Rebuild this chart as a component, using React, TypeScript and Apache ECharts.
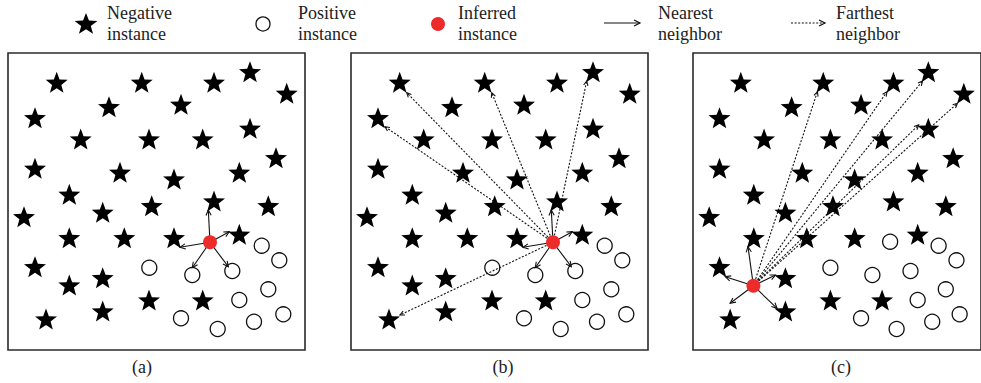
import React, { useEffect, useRef } from "react";
import * as echarts from "echarts";

// ---- data (panel-local coordinates, 0..297, y downward) ----
const starsAB: number[][] = [
  [48.7, 29.3], [133.7, 29.3], [206, 29.3], [242, 18.7], [278.7, 40.3],
  [27, 64.7], [101, 53.7], [173, 51.3], [72.7, 86], [141, 86], [194.7, 86],
  [242, 75.3], [27, 115.3], [112, 119.3], [166, 126], [231.3, 119.3],
  [268, 104.7], [61.3, 141.3], [16, 163.7], [94.7, 159.3], [143.7, 152.7],
  [206, 148], [260.3, 152.7], [61.3, 184.7], [116.3, 184.7], [166, 184.7],
  [231.3, 181.3], [27, 213.7], [61.3, 232], [94.7, 224.7], [141, 247],
  [194.7, 247], [38, 266], [94.7, 258],
];
const circlesAB: number[][] = [
  [141.3, 214.7], [184.3, 222], [224.3, 218], [253.7, 192.7], [271.3, 207.3],
  [260.3, 236.3], [231.3, 247], [173, 265.3], [209.7, 276], [246, 268.7],
  [275.3, 261.3],
];
const inferredAB: number[] = [202, 189.3];
const nearestTipsAB: number[][] = [
  [200.3, 157], [172, 194.3], [221.3, 178.7], [184.3, 214.7], [220.3, 213.7],
];
const farthestTipsB: number[][] = [
  [55.7, 39.7], [34, 73.7], [140.7, 39.7], [235.7, 28], [49, 262],
];

const starsC: number[][] = [
  [49.3, 29.3], [134.3, 29.3], [206.7, 29.3], [242.7, 18.7], [279.3, 40.3],
  [27.3, 64.7], [101.7, 53.7], [173.3, 51.3], [73.3, 86], [141.7, 86],
  [195, 86], [242.7, 75.3], [27.3, 115.3], [112.7, 119.3], [166.7, 126],
  [231.7, 119.3], [268.3, 104.7], [62.7, 141.3], [16.7, 163.7], [95.3, 159.3],
  [144.3, 152.7], [206.7, 148], [260.7, 152.7], [62.7, 184.7], [117.3, 184.7],
  [166.7, 184.7], [231.7, 181.3], [27.3, 213.7], [95.3, 224.7], [141.7, 247],
  [195, 247], [38.3, 266], [95.3, 258],
];
const circlesC: number[][] = [
  [141.7, 214.7], [185, 222], [224.3, 218], [203.3, 188.7], [253.3, 192.7],
  [271.7, 207.3], [260.7, 236.3], [231.7, 247], [173.3, 265.3], [210, 276],
  [246.7, 268.7], [275, 261.3],
];
const inferredC: number[] = [62.3, 232.7];
const nearestTipsC: number[][] = [
  [56.7, 193.7], [33.3, 223.7], [85, 222], [38.3, 250.3], [86.7, 255.3],
];
const farthestTipsC: number[][] = [
  [128.3, 38.7], [200, 38.7], [236.7, 28], [232.7, 72], [272.7, 50.3],
];

const legendLabels = [
  "Negative\ninstance",
  "Positive\ninstance",
  "Inferred\ninstance",
  "Nearest\nneighbor",
  "Farthest\nneighbor",
];
const panelLabels = ["(a)", "(b)", "(c)"];

// ---- styling ----
const STAR_D =
  "M50 0L62.34 33.01L97.55 34.55L69.97 56.49L79.39 90.45L50 71L20.61 90.45L30.03 56.49L2.45 34.55L37.66 33.01Z";
const STAR = "path://" + STAR_D;
const RED = "#ee2b2b";
const INK = "#111";
const FONT = "'Liberation Serif', 'DejaVu Serif', serif";
const TEXT = "#222";

const panelLefts = [8, 351, 693];
const PANEL_TOP = 53;
const PANEL_SIZE = 297;

echarts.graphic.registerShape("star5", echarts.graphic.extendPath(STAR_D, {}));

function arrowRender(dashed: boolean) {
  return (_params: any, api: any) => {
    const p1 = api.coord([api.value(0), api.value(1)]);
    const p2 = api.coord([api.value(2), api.value(3)]);
    const ang = Math.atan2(p2[1] - p1[1], p2[0] - p1[0]);
    const L = dashed ? 5 : 6;
    const a = 0.45;
    const h1 = [p2[0] - L * Math.cos(ang - a), p2[1] - L * Math.sin(ang - a)];
    const h2 = [p2[0] - L * Math.cos(ang + a), p2[1] - L * Math.sin(ang + a)];
    return {
      type: "group",
      children: [
        {
          type: "line",
          shape: { x1: p1[0], y1: p1[1], x2: p2[0], y2: p2[1] },
          style: { stroke: INK, lineWidth: 1.1, lineDash: dashed ? [2, 1.6] : null },
        },
        {
          type: "polyline",
          shape: { points: [h1, p2, h2] },
          style: { stroke: INK, fill: "none", lineWidth: 1.1 },
        },
      ],
    };
  };
}

function arrowData(from: number[], tips: number[][]) {
  return tips.map((t) => [from[0], from[1], t[0], t[1]]);
}

function panelSeries(
  idx: number,
  stars: number[][],
  circles: number[][],
  inferred: number[],
  nearest: number[][],
  farthest: number[][]
) {
  const ax = { xAxisIndex: idx, yAxisIndex: idx };
  const s: any[] = [
    {
      type: "scatter", ...ax, data: stars, symbol: STAR, symbolSize: [22, 21],
      itemStyle: { color: "#000", opacity: 1 }, z: 2, silent: true,
    },
    {
      type: "scatter", ...ax, data: circles, symbol: "circle", symbolSize: 15,
      itemStyle: { color: "#fff", borderColor: INK, borderWidth: 1.3, opacity: 1 }, z: 2, silent: true,
    },
    {
      type: "custom", ...ax, data: arrowData(inferred, nearest),
      renderItem: arrowRender(false), encode: { x: [0, 2], y: [1, 3] }, z: 3, silent: true,
    },
  ];
  if (farthest.length) {
    s.push({
      type: "custom", ...ax, data: arrowData(inferred, farthest),
      renderItem: arrowRender(true), encode: { x: [0, 2], y: [1, 3] }, z: 3, silent: true,
    });
  }
  s.push({
    type: "scatter", ...ax, data: [inferred], symbol: "circle", symbolSize: 14,
    itemStyle: { color: RED, opacity: 1 }, z: 5, silent: true,
  });
  return s;
}

export default function App() {
  const ref = useRef<HTMLDivElement>(null);
  useEffect(() => {
    document.body.style.margin = "0";
    if (!ref.current) return;
    const chart = echarts.init(ref.current, null, { renderer: "svg" });

    const grids = panelLefts.map((l) => ({
      left: l, top: PANEL_TOP, width: PANEL_SIZE, height: PANEL_SIZE,
      show: true, borderColor: "#2a2a2a", borderWidth: 1.6, backgroundColor: "#fff",
    }));
    const xAxes = panelLefts.map((_, i) => ({
      type: "value", gridIndex: i, min: 0, max: PANEL_SIZE, show: false,
    }));
    const yAxes = panelLefts.map((_, i) => ({
      type: "value", gridIndex: i, min: 0, max: PANEL_SIZE, inverse: true, show: false,
    }));

    const legendTextX = [107, 298, 458, 658, 836];
    const textEl = (t: string, x: number) => ({
      type: "text", x, y: 2,
      style: {
        text: t, fontFamily: FONT, fontSize: 18, fill: TEXT, lineHeight: 21,
        textVerticalAlign: "top",
      },
    });

    const arrowG = (x1: number, x2: number, y: number, dashed: boolean) => [
      {
        type: "line", shape: { x1, y1: y, x2, y2: y },
        style: { stroke: INK, lineWidth: 1.2, lineDash: dashed ? [2, 1.6] : null },
      },
      {
        type: "polyline",
        shape: { points: [[x2 - 6, y - 3], [x2, y], [x2 - 6, y + 3]] },
        style: { stroke: INK, fill: "none", lineWidth: 1.2 },
      },
    ];

    const graphic: any[] = [
      { type: "star5", x: 74, y: 13, scaleX: 0.24, scaleY: 0.23, style: { fill: "#000" } },
      { type: "circle", shape: { cx: 263, cy: 24, r: 7 }, style: { fill: "#fff", stroke: INK, lineWidth: 1.3 } },
      { type: "circle", shape: { cx: 438, cy: 24, r: 7 }, style: { fill: RED } },
      ...arrowG(604, 640, 23, false),
      ...arrowG(791, 825, 23, true),
      ...legendLabels.map((t, i) => textEl(t, legendTextX[i])),
      ...panelLabels.map((t, i) => ({
        type: "text", x: [142, 503, 841][i], y: 367,
        style: {
          text: t, fontFamily: FONT, fontSize: 18, fill: TEXT,
          textAlign: "center", textVerticalAlign: "middle",
        },
      })),
    ];

    chart.setOption({
      animation: false,
      backgroundColor: "#fff",
      grid: grids,
      xAxis: xAxes,
      yAxis: yAxes,
      graphic,
      series: [
        ...panelSeries(0, starsAB, circlesAB, inferredAB, nearestTipsAB, []),
        ...panelSeries(1, starsAB, circlesAB, inferredAB, nearestTipsAB, farthestTipsB),
        ...panelSeries(2, starsC, circlesC, inferredC, nearestTipsC, farthestTipsC),
      ],
    });
    return () => chart.dispose();
  }, []);
  return <div ref={ref} style={{ width: 981, height: 383, overflow: "hidden" }} />;
}
